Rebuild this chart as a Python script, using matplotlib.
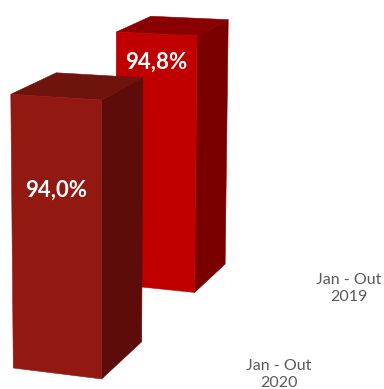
import numpy as np
import matplotlib
matplotlib.use('Agg')
import matplotlib.pyplot as plt

# data
series = ['Jan - Out\n2020', 'Jan - Out\n2019']
values = [94.0, 94.8]
labels = ['94,0%', '94,8%']

# style
front_col = ['#921911', '#C00000']
side_col = ['#5E0C0A', '#7A0000']
top_col = ['#6E140D', '#8A0000']
label_frac = [0.67, 0.89]     # where the value label sits on each bar
base = 78.0                   # value axis minimum
depth_step = 2.52             # distance between the two series rows
lab_x, lab_z = 2.69, 0.6      # series axis label anchor (floor)

# perspective camera: columns = x (bar width), value, depth, origin
P = np.array([[86.43, -0.1744, 47.44, 13.3],
              [3.634, -17.269, -16.70, 368.0],
              [-0.01933, -0.0017269, 0.058, 1.0]])


def proj(x, v, z):
    h = P @ np.array([x, v, z, 1.0])
    return h[0] / h[2], h[1] / h[2]


def box(z0, v):
    c = {}
    for i in (0, 1):
        for j in (0, 1):
            for k in (0, 1):
                c[i, j, k] = proj(i, j * v, z0 + k)
    front = [c[0, 0, 0], c[1, 0, 0], c[1, 1, 0], c[0, 1, 0]]
    side = [c[1, 0, 0], c[1, 0, 1], c[1, 1, 1], c[1, 1, 0]]
    top = [c[0, 1, 0], c[1, 1, 0], c[1, 1, 1], c[0, 1, 1]]
    return front, side, top


fig = plt.figure(figsize=(3.84, 3.89), dpi=100)
ax = fig.add_axes([0, 0, 1, 1])
ax.set_xlim(0, 384)
ax.set_ylim(389, 0)
ax.axis('off')

# draw back row first so the front bar covers it
for i in reversed(range(len(values))):
    z0 = i * depth_step
    v = values[i] - base
    front, side, top = box(z0, v)
    for poly, col in ((side, side_col[i]), (top, top_col[i]), (front, front_col[i])):
        xs, ys = zip(*poly)
        ax.fill(xs, ys, color=col, lw=0.4, ec=col)
    lx, ly = proj(0.5, v * label_frac[i], z0)
    ax.text(lx, ly, labels[i], color='white', fontsize=16, fontweight='bold',
            family='Lato', ha='center', va='center')
    sx, sy = proj(lab_x, 0, z0 + lab_z)
    ax.text(sx, sy, series[i], color='#595959', fontsize=11.5, family='Lato',
            ha='center', va='center', linespacing=1.25)

fig.savefig('out.png', dpi=100)
